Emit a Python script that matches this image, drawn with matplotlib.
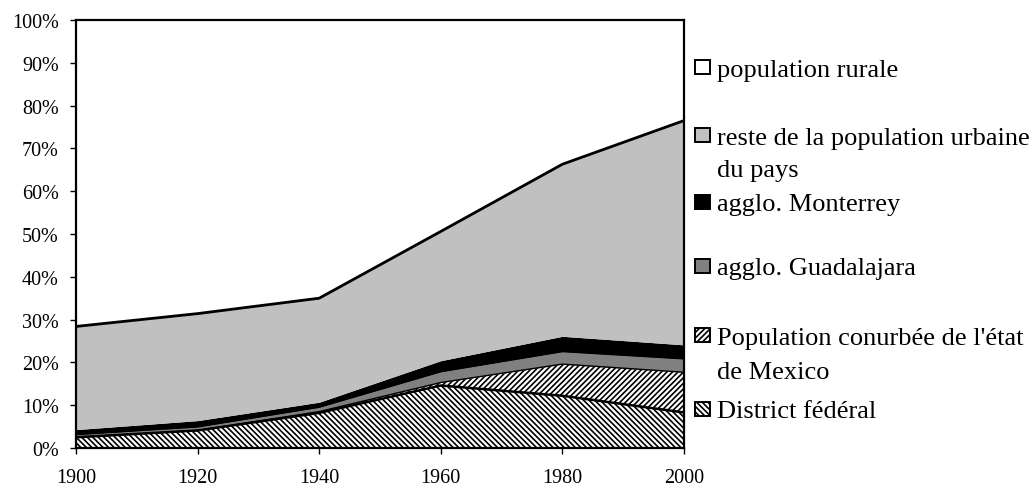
import numpy as np
import matplotlib.pyplot as plt
from matplotlib.patches import Rectangle
from matplotlib.ticker import PercentFormatter

plt.rcParams['font.family'] = ['Liberation Serif', 'DejaVu Serif']
plt.rcParams['hatch.linewidth'] = 1.2
plt.rcParams['hatch.color'] = 'black'

# data (share of total population, %)
years = [1900, 1920, 1940, 1960, 1980, 2000]
district_federal = [2.5, 4.1, 8.2, 14.6, 12.2, 8.3]
conurbation_mex = [0.0, 0.0, 0.3, 0.7, 7.4, 9.4]
guadalajara = [0.6, 0.8, 1.0, 2.5, 2.9, 3.1]
monterrey = [1.2, 1.5, 1.2, 2.6, 3.6, 3.3]
total_urbain = [28.4, 31.4, 35.0, 50.6, 66.3, 76.5]
reste_urbain = [t - d - c - g - m for t, d, c, g, m in
                zip(total_urbain, district_federal, conurbation_mex, guadalajara, monterrey)]
rural = [100 - t for t in total_urbain]

labels = [['District fédéral'], ["Population conurbée de l'état", 'de Mexico'],
          ['agglo. Guadalajara'], ['agglo. Monterrey'],
          ['reste de la population urbaine', 'du pays'], ['population rurale']]
series = [district_federal, conurbation_mex, guadalajara, monterrey, reste_urbain, rural]
faces = ['white', 'white', '#808080', 'black', '#c0c0c0', 'white']
hatches = ['\\' * 6, '/' * 6, None, None, None, None]

fig = plt.figure(figsize=(10.34, 4.89), dpi=100)
ax = fig.add_axes([76/1034, 40/489, 608/1034, 428/489])

x = np.array(years)
base = np.zeros(len(years))
for vals, fc, h in zip(series, faces, hatches):
    top = base + np.array(vals)
    ax.fill_between(x, base, top, facecolor=fc, hatch=h, edgecolor='black', lw=0)
    base = top

# boundary lines
cum = np.cumsum(np.array(series[:-1]), axis=0)
ax.plot(x, cum[0], color='black', lw=1.8)
ax.plot(x, cum[1], color='black', lw=1.0)
ax.plot(x, cum[2], color='black', lw=0.8)
ax.plot(x, cum[4], color='black', lw=2.0)

ax.set_xlim(1900, 2000)
ax.set_ylim(0, 100)
ax.set_xticks(years)
ax.set_yticks(np.arange(0, 101, 10))
ax.yaxis.set_major_formatter(PercentFormatter(decimals=0))
ax.tick_params(labelsize=14.5, length=4.5, width=1, direction='out', pad=8)
ax.tick_params(axis='x', pad=10)
for s in ax.spines.values():
    s.set_linewidth(1.6)

# legend, drawn manually (pixel row of each text line)
leg_rows = [[68], [136, 169], [203], [267], [336, 371], [410]][::-1]
for lines, fc, h, rows in zip(labels, faces, hatches, leg_rows):
    fy = 1 - rows[0] / 489
    fig.patches.append(Rectangle((695/1034, fy - 7/489), 15/1034, 14/489,
                                 transform=fig.transFigure, facecolor=fc, hatch=h,
                                 edgecolor='black', lw=1.4))
    for txt, yr in zip(lines, rows):
        fig.text(717/1034, 1 - yr/489, txt, fontsize=19, va='center_baseline',
                 ha='left')

fig.savefig('out.png', dpi=100)
